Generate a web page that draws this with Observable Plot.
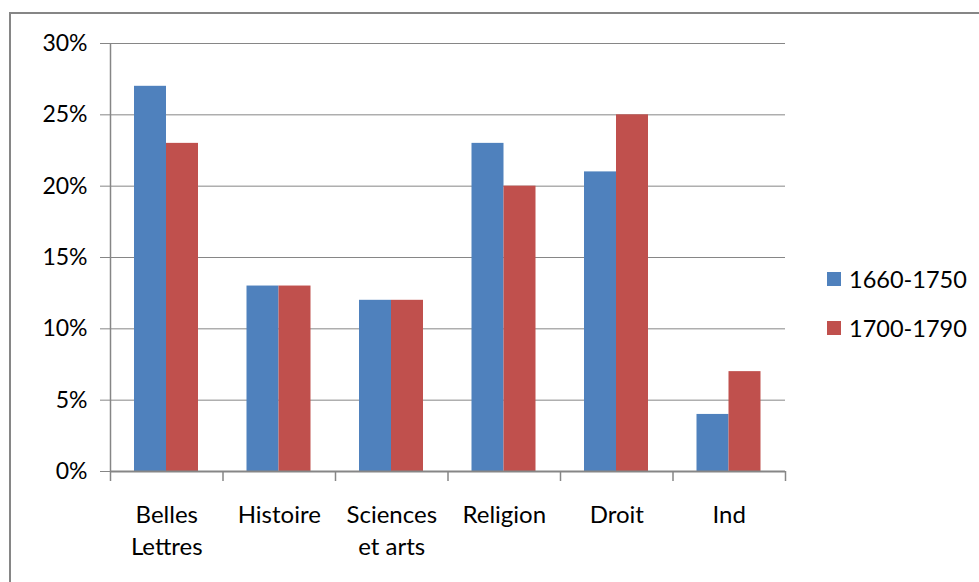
<!DOCTYPE html>
<html><head><meta charset="utf-8">
<script src="https://cdn.jsdelivr.net/npm/d3@7"></script>
<script src="https://cdn.jsdelivr.net/npm/@observablehq/plot@0.6"></script>
<style>
body{margin:0;background:#fff;}
#wrap{position:relative;width:979px;height:582px;overflow:hidden;font-family:Lato,sans-serif;background:#fff;}
#border{position:absolute;left:9px;top:12px;width:1000px;height:600px;border-left:2px solid #868686;border-top:2px solid #868686;}
#chart{position:absolute;left:0;top:0;}
#legend{position:absolute;left:827px;top:254px;font-size:23.5px;color:#000;}
.row{display:flex;align-items:center;height:49px;}
.sw{width:14px;height:14px;margin-right:8px;}
</style></head><body><div id="wrap"><div id="border"></div><div id="chart"></div><div id="legend"></div></div>
<script>
const categories = ["Belles\nLettres", "Histoire", "Sciences\net arts", "Religion", "Droit", "Ind"];
const series = ["1660-1750", "1700-1790"];
const values1660 = [0.27, 0.13, 0.12, 0.23, 0.21, 0.04];
const values1700 = [0.23, 0.13, 0.12, 0.20, 0.25, 0.07];
const colors = ["#4F81BD", "#C0504D"];
const yTicks = [0, 0.05, 0.10, 0.15, 0.20, 0.25, 0.30];

const rows1 = categories.map((c, i) => ({category: c, series: series[0], value: values1660[i]}));
const rows2 = categories.map((c, i) => ({category: c, series: series[1], value: values1700[i]}));

const W = 979, H = 582, mL = 110, mR = 194, mT = 43, mB = 111;
const bw = (W - mL - mR) / categories.length;
const grey = "#868686";

const chart = Plot.plot({
  width: W, height: H,
  marginLeft: mL, marginRight: mR, marginTop: mT, marginBottom: mB,
  style: {fontFamily: "Lato, sans-serif", fontSize: "23px", color: "#000", background: "transparent"},
  x: {domain: categories, padding: 0, round: false, axis: null},
  y: {domain: [0, 0.3], axis: null},
  color: {domain: series, range: colors},
  marks: [
    Plot.gridY(yTicks, {stroke: grey, strokeOpacity: 1, strokeWidth: 1}),
    Plot.barY(rows1, {x: "category", y: "value", fill: "series", insetLeft: 24, insetRight: bw - 56}),
    Plot.barY(rows2, {x: "category", y: "value", fill: "series", insetLeft: 56, insetRight: bw - 88}),
    Plot.ruleY([0], {stroke: grey, strokeWidth: 2}),
    Plot.ruleX([categories[0]], {x: d => d, dx: -bw / 2, y1: 0.3, y2: 0, insetBottom: -10, stroke: grey, strokeWidth: 1.5}),
    Plot.ruleX(categories.slice(1), {x: d => d, dx: -bw / 2, y1: 0, y2: 0, insetBottom: -10, stroke: grey, strokeWidth: 1.5}),
    Plot.ruleX([categories[categories.length - 1]], {x: d => d, dx: bw / 2, y1: 0, y2: 0, insetBottom: -10, stroke: grey, strokeWidth: 1.5}),
    Plot.axisY({ticks: yTicks, tickFormat: d3.format(".0%"), tickSize: 10, tickPadding: 13, stroke: grey, fill: "#000", label: null}),
    Plot.axisX({tickSize: 0, tickPadding: 28, lineHeight: 1.35, fontSize: 24, fill: "#000", label: null})
  ]
});
document.getElementById("chart").appendChild(chart);

const legend = d3.select("#legend");
series.forEach((s, i) => {
  const row = legend.append("div").attr("class", "row");
  row.append("div").attr("class", "sw").style("background", colors[i]);
  row.append("span").text(s);
});
</script>
</body></html>
